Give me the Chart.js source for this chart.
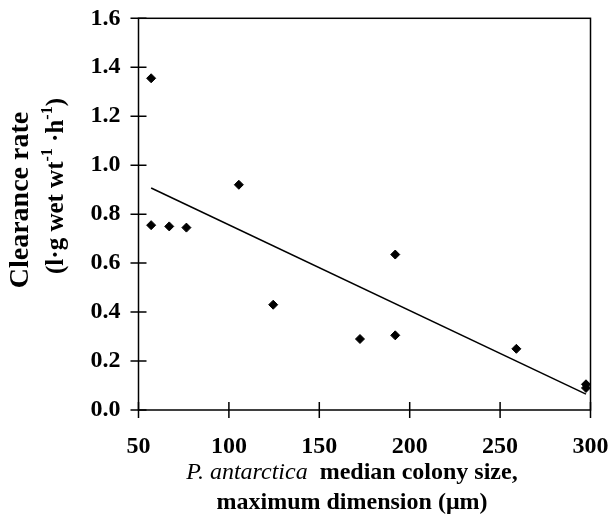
<!DOCTYPE html>
<html>
<head>
<meta charset="utf-8">
<script src="https://cdn.jsdelivr.net/npm/chart.js@4.4.1/dist/chart.umd.min.js"></script>
<style>
  body { margin: 0; background: #fff; }
  #wrap { width: 612px; height: 523px; position: relative; }
</style>
</head>
<body>
<div id="wrap"><canvas id="chart"></canvas></div>
<script>
// colony size (um) vs clearance rate
var colonySize = [57, 57, 67, 76.5, 105.5, 124.5, 172.5, 192, 192, 259, 297.5, 297.5];
var clearance = [1.355, 0.755, 0.75, 0.745, 0.92, 0.43, 0.29, 0.635, 0.305, 0.25, 0.105, 0.09];
// fitted line end points
var trendX = [57, 297.5];
var trendY = [0.907, 0.065];
var xTicks = [50, 100, 150, 200, 250, 300];
var yTicks = [0, 0.2, 0.4, 0.6, 0.8, 1.0, 1.2, 1.4, 1.6];

var serif = '"Liberation Serif", "Times New Roman", serif';

function pairs(xs, ys) {
    return xs.map(function (x, i) { return { x: x, y: ys[i] }; });
}

// ticks crossing the axes, box on top/right, and the axis titles
var framePlugin = {
    id: 'frame',
    afterDraw: function (chart) {
        var ctx = chart.ctx;
        var a = chart.chartArea;
        var xs = chart.scales.x, ys = chart.scales.y;
        ctx.save();
        ctx.strokeStyle = '#000';
        ctx.lineWidth = 1.5;
        ctx.strokeRect(a.left, a.top, a.right - a.left, a.bottom - a.top);
        ctx.beginPath();
        xTicks.forEach(function (v) {
            var px = xs.getPixelForValue(v);
            ctx.moveTo(px, a.bottom - 8);
            ctx.lineTo(px, a.bottom + 8);
        });
        yTicks.forEach(function (v) {
            var py = ys.getPixelForValue(v);
            ctx.moveTo(a.left - 8, py);
            ctx.lineTo(a.left + 8, py);
        });
        ctx.stroke();

        ctx.fillStyle = '#000';
        // y title
        ctx.save();
        ctx.translate(21, 200);
        ctx.rotate(-Math.PI / 2);
        ctx.font = 'bold 28px ' + serif;
        ctx.textAlign = 'center';
        ctx.textBaseline = 'middle';
        ctx.fillText('Clearance rate', 0, 0);
        ctx.restore();

        ctx.save();
        ctx.translate(57, 186);
        ctx.rotate(-Math.PI / 2);
        ctx.textBaseline = 'middle';
        ctx.textAlign = 'left';
        var parts = [
            ['(l·g wet wt', false], ['-1', true], [' ·h', false], ['-1', true], [')', false]
        ];
        var big = 'bold 25px ' + serif, small = 'bold 16px ' + serif;
        var total = 0;
        parts.forEach(function (p) {
            ctx.font = p[1] ? small : big;
            total += ctx.measureText(p[0]).width;
        });
        var cx = -total / 2;
        parts.forEach(function (p) {
            ctx.font = p[1] ? small : big;
            ctx.fillText(p[0], cx, p[1] ? -9 : 0);
            cx += ctx.measureText(p[0]).width;
        });
        ctx.restore();

        // x title
        ctx.textBaseline = 'middle';
        ctx.textAlign = 'left';
        var ital = 'italic 24px ' + serif, bold = 'bold 24px ' + serif;
        var t1 = 'P. antarctica', t2 = '  median colony size,';
        ctx.font = ital;
        var w1 = ctx.measureText(t1).width;
        ctx.font = bold;
        var w2 = ctx.measureText(t2).width;
        var sx = 352 - (w1 + w2) / 2;
        ctx.font = ital;
        ctx.fillText(t1, sx, 473);
        ctx.font = bold;
        ctx.fillText(t2, sx + w1, 473);
        ctx.textAlign = 'center';
        ctx.fillText('maximum dimension (μm)', 352, 503);
        ctx.restore();
    }
};

var ctx = document.getElementById('chart').getContext('2d');
var chart = new Chart(ctx, {
    type: 'scatter',
    data: {
        datasets: [{
            label: 'Clearance rate',
            data: pairs(colonySize, clearance),
            pointStyle: 'rectRot',
            pointRadius: 4.5,
            backgroundColor: '#000',
            borderColor: '#000',
            borderWidth: 1
        }, {
            type: 'line',
            label: 'Fit',
            data: pairs(trendX, trendY),
            borderColor: '#000',
            borderWidth: 1.5,
            pointRadius: 0,
            fill: false
        }]
    },
    options: {
        responsive: true,
        maintainAspectRatio: false,
        animation: false,
        layout: { padding: { top: 18.3, right: 21.5, left: 0, bottom: 0 } },
        plugins: {
            legend: { display: false },
            tooltip: { enabled: false }
        },
        scales: {
            x: {
                type: 'linear',
                min: 50,
                max: 300,
                afterFit: function (scale) {
                    scale.height = 113;
                    scale.paddingLeft = 0;
                    scale.paddingRight = 0;
                },
                afterBuildTicks: function (scale) {
                    scale.ticks = xTicks.map(function (v) { return { value: v }; });
                },
                grid: { display: false, drawTicks: false },
                border: { display: false },
                ticks: {
                    color: '#000',
                    padding: 22,
                    maxRotation: 0,
                    font: { family: serif, size: 24, weight: 'bold' }
                }
            },
            y: {
                min: 0,
                max: 1.6,
                afterFit: function (scale) {
                    scale.width = 138.5;
                    scale.paddingTop = 0;
                    scale.paddingBottom = 0;
                },
                afterBuildTicks: function (scale) {
                    scale.ticks = yTicks.map(function (v) { return { value: v }; });
                },
                grid: { display: false, drawTicks: false },
                border: { display: false },
                ticks: {
                    color: '#000',
                    padding: 18,
                    font: { family: serif, size: 24, weight: 'bold' },
                    callback: function (v) { return Number(v).toFixed(1); }
                }
            }
        }
    },
    plugins: [framePlugin]
});
</script>
</body>
</html>
